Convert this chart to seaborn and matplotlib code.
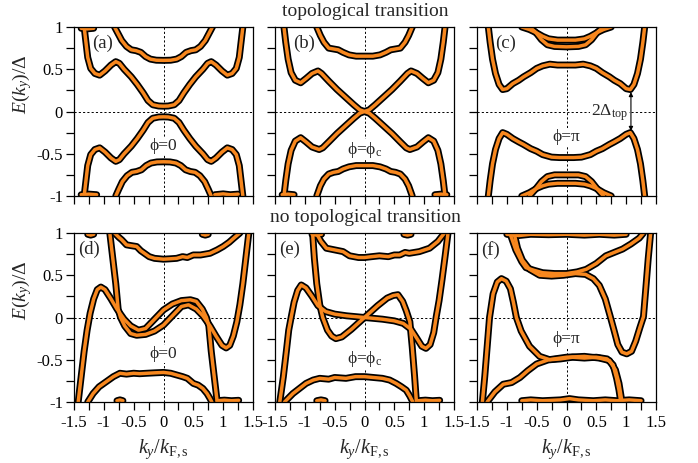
import matplotlib
matplotlib.use("Agg")
import matplotlib.pyplot as plt
import seaborn as sns
import pandas as pd

sns.set_theme(style="ticks")
plt.rcParams["font.family"] = ["Liberation Serif", "DejaVu Serif"]
plt.rcParams["mathtext.fontset"] = "custom"
plt.rcParams["mathtext.rm"] = "Liberation Serif"
plt.rcParams["mathtext.it"] = "Liberation Serif:italic"
plt.rcParams["axes.unicode_minus"] = False
plt.rcParams["axes.edgecolor"] = "black"
plt.rcParams["xtick.color"] = "black"
plt.rcParams["ytick.color"] = "black"

ORANGE = "#F7871E"

# axis ticks
K_TICKS = [-1.5, -1.0, -0.5, 0.0, 0.5, 1.0, 1.5]
K_TICK_LABELS = ["-1.5", "-1", "-0.5", "0", "0.5", "1", "1.5"]
K_MINOR = [-1.25, -0.75, -0.25, 0.25, 0.75, 1.25]
E_TICKS = [-1.0, -0.5, 0.0, 0.5, 1.0]
E_TICK_LABELS = ["-1", "-0.5", "0", "0.5", "1"]
E_MINOR = [-0.75, -0.25, 0.25, 0.75]

# ---- (a) phi = 0, topological case ----
A_UP_INNER = [(-1.33, 1.0), (-1.30, 0.82), (-1.27, 0.64), (-1.22, 0.51), (-1.15, 0.45),
              (-1.07, 0.43), (-0.98, 0.48), (-0.88, 0.55), (-0.80, 0.59), (-0.74, 0.57),
              (-0.66, 0.50), (-0.54, 0.41), (-0.44, 0.32), (-0.34, 0.22), (-0.26, 0.13),
              (-0.18, 0.08), (-0.08, 0.065), (0.0, 0.063), (0.08, 0.065), (0.18, 0.08),
              (0.26, 0.13), (0.34, 0.22), (0.44, 0.32), (0.54, 0.41), (0.66, 0.50),
              (0.74, 0.57), (0.80, 0.59), (0.88, 0.55), (0.98, 0.48), (1.07, 0.43),
              (1.15, 0.45), (1.22, 0.51), (1.27, 0.64), (1.30, 0.82), (1.33, 1.0)]
A_UP_OUTER = [(-0.82, 1.0), (-0.76, 0.92), (-0.70, 0.84), (-0.62, 0.77), (-0.54, 0.73),
              (-0.46, 0.72), (-0.38, 0.70), (-0.30, 0.65), (-0.22, 0.62), (-0.12, 0.607),
              (0.0, 0.605), (0.12, 0.607), (0.22, 0.62), (0.30, 0.65), (0.38, 0.70),
              (0.46, 0.72), (0.54, 0.73), (0.62, 0.77), (0.70, 0.84), (0.76, 0.92), (0.82, 1.0)]
A_DN_INNER = [(-1.33, -1.0), (-1.30, -0.82), (-1.27, -0.64), (-1.22, -0.51), (-1.15, -0.45),
              (-1.07, -0.43), (-0.98, -0.48), (-0.88, -0.55), (-0.80, -0.59), (-0.74, -0.57),
              (-0.66, -0.50), (-0.54, -0.41), (-0.44, -0.32), (-0.34, -0.22), (-0.26, -0.13),
              (-0.18, -0.08), (-0.08, -0.065), (0.0, -0.063), (0.08, -0.065), (0.18, -0.08),
              (0.26, -0.13), (0.34, -0.22), (0.44, -0.32), (0.54, -0.41), (0.66, -0.50),
              (0.74, -0.57), (0.80, -0.59), (0.88, -0.55), (0.98, -0.48), (1.07, -0.43),
              (1.15, -0.45), (1.22, -0.51), (1.27, -0.64), (1.30, -0.82), (1.33, -1.0)]
A_DN_OUTER = [(-0.80, -1.0), (-0.75, -0.92), (-0.69, -0.83), (-0.61, -0.76), (-0.53, -0.72),
              (-0.45, -0.71), (-0.37, -0.69), (-0.29, -0.64), (-0.21, -0.61), (-0.11, -0.597),
              (0.0, -0.595), (0.11, -0.597), (0.21, -0.61), (0.29, -0.64), (0.37, -0.69),
              (0.45, -0.71), (0.53, -0.72), (0.61, -0.76), (0.69, -0.83), (0.75, -0.92), (0.80, -1.0)]
A_EDGE_TOP = [(-1.38, 0.985), (-1.28, 0.978), (-1.17, 0.985)]
A_EDGE_BOT_L = [(-1.38, -0.985), (-1.25, -0.978), (-1.12, -0.985)]
A_EDGE_BOT_R = [(0.86, -0.985), (1.0, -0.975), (1.12, -0.985), (1.25, -0.978)]

# ---- (b) phi = phi_c, gap closing ----
B_UP_INNER = [(-1.35, 1.0), (-1.32, 0.82), (-1.28, 0.62), (-1.23, 0.46), (-1.16, 0.37),
              (-1.07, 0.34), (-0.98, 0.39), (-0.88, 0.45), (-0.78, 0.48), (-0.72, 0.45),
              (-0.60, 0.36), (-0.46, 0.26), (-0.32, 0.17), (-0.18, 0.08), (-0.08, 0.02),
              (0.0, 0.0), (0.08, 0.02), (0.18, 0.08), (0.32, 0.17), (0.46, 0.26),
              (0.60, 0.36), (0.72, 0.45), (0.78, 0.48), (0.88, 0.45), (0.98, 0.39),
              (1.07, 0.34), (1.16, 0.37), (1.23, 0.46), (1.28, 0.62), (1.32, 0.82), (1.35, 1.0)]
B_UP_OUTER = [(-0.80, 1.0), (-0.74, 0.90), (-0.68, 0.82), (-0.60, 0.75), (-0.52, 0.74),
              (-0.44, 0.73), (-0.36, 0.70), (-0.26, 0.67), (-0.14, 0.655), (0.0, 0.655),
              (0.14, 0.655), (0.26, 0.67), (0.36, 0.70), (0.44, 0.73), (0.52, 0.74),
              (0.60, 0.75), (0.68, 0.82), (0.74, 0.90), (0.80, 1.0)]
B_DN_INNER = [(-1.35, -1.0), (-1.32, -0.82), (-1.28, -0.62), (-1.23, -0.46), (-1.16, -0.35),
              (-1.07, -0.31), (-0.98, -0.36), (-0.88, -0.42), (-0.76, -0.45), (-0.70, -0.43),
              (-0.60, -0.36), (-0.46, -0.26), (-0.32, -0.17), (-0.18, -0.08), (-0.08, -0.02),
              (0.0, 0.0), (0.08, -0.02), (0.18, -0.08), (0.32, -0.17), (0.46, -0.26),
              (0.60, -0.36), (0.70, -0.43), (0.76, -0.45), (0.88, -0.42), (0.98, -0.36),
              (1.07, -0.31), (1.16, -0.35), (1.23, -0.46), (1.28, -0.62), (1.32, -0.82), (1.35, -1.0)]
B_DN_OUTER = [(-0.80, -1.0), (-0.74, -0.88), (-0.68, -0.80), (-0.60, -0.74), (-0.52, -0.72),
              (-0.44, -0.71), (-0.36, -0.68), (-0.26, -0.655), (-0.14, -0.64), (0.0, -0.64),
              (0.14, -0.64), (0.26, -0.655), (0.36, -0.68), (0.44, -0.71), (0.52, -0.72),
              (0.60, -0.74), (0.68, -0.80), (0.74, -0.88), (0.80, -1.0)]
B_EDGE_BOT_L = [(-1.38, -0.985), (-1.28, -0.978), (-1.18, -0.985)]
B_EDGE_BOT_R = [(1.18, -0.985), (1.28, -0.978), (1.38, -0.985)]

# ---- (c) phi = pi ----
C_UP_LOW = [(-1.31, 1.0), (-1.28, 0.82), (-1.24, 0.62), (-1.19, 0.45), (-1.13, 0.32),
            (-1.07, 0.26), (-1.00, 0.27), (-0.90, 0.33), (-0.80, 0.37), (-0.72, 0.41),
            (-0.60, 0.46), (-0.50, 0.51), (-0.40, 0.54), (-0.28, 0.56), (-0.15, 0.55),
            (0.0, 0.55), (0.15, 0.55), (0.28, 0.56), (0.40, 0.54), (0.50, 0.51),
            (0.60, 0.46), (0.72, 0.41), (0.80, 0.37), (0.90, 0.33), (1.00, 0.27),
            (1.07, 0.26), (1.13, 0.32), (1.19, 0.45), (1.24, 0.62), (1.28, 0.82), (1.31, 1.0)]
C_UP_HIGH_A = [(-0.75, 1.0), (-0.62, 0.97), (-0.50, 0.93), (-0.40, 0.89), (-0.30, 0.86),
               (-0.15, 0.845), (0.0, 0.845), (0.15, 0.845), (0.30, 0.86), (0.40, 0.89),
               (0.50, 0.93), (0.62, 0.97), (0.75, 1.0)]
C_UP_HIGH_B = [(-0.62, 1.0), (-0.52, 0.94), (-0.42, 0.85), (-0.32, 0.79), (-0.20, 0.77),
               (0.0, 0.765), (0.20, 0.77), (0.32, 0.79), (0.42, 0.85), (0.52, 0.94), (0.62, 1.0)]
C_DN_HIGH = [(-1.31, -1.0), (-1.28, -0.82), (-1.24, -0.62), (-1.19, -0.45), (-1.13, -0.32),
             (-1.07, -0.25), (-1.00, -0.27), (-0.90, -0.32), (-0.80, -0.36), (-0.72, -0.39),
             (-0.60, -0.44), (-0.50, -0.47), (-0.40, -0.51), (-0.25, -0.54), (-0.12, -0.545),
             (0.0, -0.545), (0.12, -0.545), (0.25, -0.54), (0.40, -0.51), (0.50, -0.47),
             (0.60, -0.44), (0.72, -0.39), (0.80, -0.36), (0.90, -0.32), (1.00, -0.27),
             (1.07, -0.25), (1.13, -0.32), (1.19, -0.45), (1.24, -0.62), (1.28, -0.82), (1.31, -1.0)]
C_DN_LOW_A = [(-0.75, -1.0), (-0.62, -0.96), (-0.50, -0.91), (-0.40, -0.88), (-0.30, -0.86),
              (-0.15, -0.85), (0.0, -0.85), (0.15, -0.85), (0.30, -0.86), (0.40, -0.88),
              (0.50, -0.91), (0.62, -0.96), (0.75, -1.0)]
C_DN_LOW_B = [(-0.62, -1.0), (-0.52, -0.92), (-0.42, -0.83), (-0.32, -0.77), (-0.20, -0.75),
              (0.0, -0.75), (0.20, -0.75), (0.32, -0.77), (0.42, -0.83), (0.52, -0.92), (0.62, -1.0)]

# ---- (d) phi = 0, no topological transition ----
D_TOP = [(-0.82, 1.0), (-0.75, 0.95), (-0.70, 0.92), (-0.62, 0.86), (-0.54, 0.85),
         (-0.45, 0.84), (-0.38, 0.79), (-0.32, 0.76), (-0.24, 0.72), (-0.15, 0.70),
         (0.0, 0.69), (0.12, 0.695), (0.22, 0.70), (0.32, 0.72), (0.40, 0.71),
         (0.50, 0.74), (0.62, 0.74), (0.70, 0.75), (0.78, 0.76), (0.90, 0.80),
         (1.00, 0.84), (1.10, 0.89), (1.18, 0.94), (1.28, 1.0)]
D_BOT = [(-1.27, -1.0), (-1.18, -0.90), (-1.08, -0.82), (-1.00, -0.78), (-0.92, -0.74),
         (-0.84, -0.70), (-0.73, -0.66), (-0.62, -0.67), (-0.50, -0.66), (-0.40, -0.665),
         (-0.28, -0.66), (-0.15, -0.655), (0.0, -0.65), (0.12, -0.66), (0.22, -0.68),
         (0.32, -0.70), (0.40, -0.72), (0.50, -0.78), (0.58, -0.80), (0.66, -0.84),
         (0.73, -0.90), (0.78, -0.96), (0.81, -1.0)]
D_MID_A = [(-1.43, -1.0), (-1.38, -0.70), (-1.33, -0.40), (-1.28, -0.15), (-1.23, 0.05),
           (-1.17, 0.22), (-1.11, 0.33), (-1.05, 0.36), (-0.98, 0.33), (-0.88, 0.22),
           (-0.78, 0.10), (-0.66, -0.02), (-0.55, -0.10), (-0.42, -0.15), (-0.30, -0.13),
           (-0.15, -0.02), (0.0, 0.09), (0.15, 0.16), (0.30, 0.20), (0.45, 0.21),
           (0.55, 0.19), (0.65, 0.10), (0.72, 0.0), (0.76, -0.10), (0.80, -0.40),
           (0.85, -0.70), (0.90, -1.0)]
D_MID_B = [(-0.90, 1.0), (-0.85, 0.70), (-0.80, 0.40), (-0.76, 0.10), (-0.72, 0.0),
           (-0.65, -0.10), (-0.55, -0.19), (-0.45, -0.21), (-0.30, -0.20), (-0.15, -0.16),
           (0.0, -0.09), (0.15, 0.02), (0.30, 0.13), (0.42, 0.15), (0.55, 0.10),
           (0.66, 0.02), (0.78, -0.10), (0.88, -0.22), (0.98, -0.33), (1.05, -0.36),
           (1.11, -0.33), (1.17, -0.22), (1.23, -0.05), (1.28, 0.15), (1.33, 0.40),
           (1.38, 0.70), (1.43, 1.0)]
D_EDGE_TOP_L = [(-1.27, 0.985), (-1.22, 0.975), (-1.17, 0.985)]
D_EDGE_TOP_R = [(0.65, 0.985), (0.70, 0.975), (0.75, 0.985)]
D_EDGE_BOT_L = [(-0.78, -0.985), (-0.73, -0.975), (-0.68, -0.985)]
D_EDGE_BOT_R = [(0.90, -0.985), (1.02, -0.978), (1.14, -0.985), (1.26, -0.98)]

# ---- (e) phi = phi_c, no topological transition ----
E_TOP = [(-0.81, 1.0), (-0.73, 0.90), (-0.64, 0.82), (-0.50, 0.80), (-0.36, 0.78),
         (-0.25, 0.73), (-0.10, 0.71), (0.0, 0.71), (0.12, 0.72), (0.25, 0.73),
         (0.40, 0.72), (0.50, 0.74), (0.59, 0.74), (0.68, 0.77), (0.75, 0.76),
         (0.92, 0.78), (1.09, 0.82), (1.23, 0.90), (1.34, 1.0)]
E_BOT = [(-1.34, -1.0), (-1.20, -0.90), (-0.98, -0.78), (-0.86, -0.74), (-0.75, -0.72),
         (-0.60, -0.73), (-0.50, -0.71), (-0.31, -0.72), (-0.15, -0.70), (0.0, -0.70),
         (0.15, -0.71), (0.30, -0.72), (0.42, -0.74), (0.53, -0.78), (0.62, -0.82),
         (0.70, -0.86), (0.76, -0.93), (0.81, -1.0)]
E_MID_A = [(-1.42, -1.0), (-1.36, -0.70), (-1.31, -0.40), (-1.27, -0.15), (-1.23, 0.0),
           (-1.18, 0.18), (-1.12, 0.32), (-1.06, 0.385), (-0.98, 0.35), (-0.88, 0.25),
           (-0.78, 0.14), (-0.65, 0.07), (-0.50, 0.04), (-0.30, 0.02), (0.0, 0.0),
           (0.30, -0.02), (0.50, -0.04), (0.65, -0.07), (0.78, -0.14), (0.88, -0.25),
           (0.96, -0.34), (1.03, -0.365), (1.10, -0.32), (1.16, -0.18), (1.20, 0.0),
           (1.25, 0.20), (1.30, 0.45), (1.35, 0.72), (1.40, 1.0)]
E_MID_B = [(-0.87, 1.0), (-0.84, 0.70), (-0.80, 0.40), (-0.75, 0.15), (-0.70, 0.0),
           (-0.62, -0.15), (-0.55, -0.22), (-0.48, -0.25), (-0.38, -0.23), (-0.22, -0.14),
           (0.0, 0.0), (0.22, 0.14), (0.38, 0.23), (0.48, 0.26), (0.56, 0.27),
           (0.64, 0.19), (0.70, 0.08), (0.76, -0.05), (0.80, -0.35), (0.84, -0.70), (0.87, -1.0)]
E_EDGE_TOP_L = [(-0.88, 0.985), (-0.80, 0.975), (-0.72, 0.985)]
E_EDGE_TOP_R = [(0.66, 0.985), (0.72, 0.975), (0.78, 0.985)]
E_EDGE_BOT_L = [(-0.80, -0.985), (-0.73, -0.975), (-0.66, -0.985)]
E_EDGE_BOT_R = [(0.90, -0.985), (1.02, -0.978), (1.14, -0.985), (1.26, -0.98)]

# ---- (f) phi = pi, no topological transition ----
F_UPPER = [(-0.95, 1.0), (-0.85, 0.80), (-0.75, 0.66), (-0.68, 0.59), (-0.55, 0.56),
           (-0.40, 0.53), (-0.20, 0.52), (0.0, 0.52), (0.18, 0.54), (0.33, 0.57),
           (0.50, 0.64), (0.66, 0.73), (0.80, 0.77), (0.94, 0.81), (1.08, 0.87),
           (1.22, 0.94), (1.29, 1.0)]
F_LOWER = [(-1.33, -1.0), (-1.20, -0.88), (-1.06, -0.79), (-0.92, -0.77), (-0.78, -0.71),
           (-0.65, -0.63), (-0.50, -0.55), (-0.30, -0.50), (0.0, -0.47), (0.30, -0.46),
           (0.55, -0.48), (0.72, -0.51), (0.82, -0.62), (0.88, -0.78), (0.93, -1.0)]
F_MID_A = [(-1.41, -1.0), (-1.37, -0.70), (-1.33, -0.35), (-1.29, 0.0), (-1.23, 0.28),
           (-1.16, 0.42), (-1.09, 0.46), (-1.01, 0.43), (-0.94, 0.34), (-0.89, 0.18),
           (-0.84, 0.0), (-0.76, -0.16), (-0.62, -0.34), (-0.45, -0.46), (-0.28, -0.50),
           (-0.10, -0.49), (0.10, -0.47), (0.30, -0.48), (0.50, -0.47), (0.68, -0.49),
           (0.78, -0.56), (0.84, -0.72), (0.88, -0.86), (0.91, -1.0)]
F_MID_B = [(-0.88, 1.0), (-0.82, 0.82), (-0.74, 0.68), (-0.62, 0.57), (-0.45, 0.50),
           (-0.25, 0.49), (-0.05, 0.50), (0.15, 0.52), (0.32, 0.51), (0.45, 0.46),
           (0.55, 0.38), (0.65, 0.22), (0.73, 0.02), (0.80, -0.16), (0.86, -0.32),
           (0.93, -0.41), (1.01, -0.43), (1.09, -0.40), (1.16, -0.28), (1.23, -0.12),
           (1.29, 0.01), (1.33, 0.35), (1.37, 0.70), (1.41, 1.0)]
F_EDGE_TOP = [(-1.0, 0.985), (-0.8, 0.97), (-0.6, 0.985), (-0.3, 0.98), (0.0, 0.985),
              (0.3, 0.975), (0.55, 0.985), (0.8, 0.975), (1.0, 0.985)]
F_EDGE_BOT = [(-0.75, -0.985), (-0.6, -0.975), (-0.4, -0.985), (-0.1, -0.975), (0.05, -0.96),
              (0.2, -0.975), (0.45, -0.985), (0.65, -0.975), (0.85, -0.985), (1.05, -0.975),
              (1.25, -0.985)]

PANEL_CURVES = {
    "a": [A_UP_INNER, A_UP_OUTER, A_DN_INNER, A_DN_OUTER, A_EDGE_TOP, A_EDGE_BOT_L, A_EDGE_BOT_R],
    "b": [B_UP_INNER, B_UP_OUTER, B_DN_INNER, B_DN_OUTER, B_EDGE_BOT_L, B_EDGE_BOT_R],
    "c": [C_UP_LOW, C_UP_HIGH_A, C_UP_HIGH_B, C_DN_HIGH, C_DN_LOW_A, C_DN_LOW_B],
    "d": [D_TOP, D_BOT, D_MID_A, D_MID_B, D_EDGE_TOP_L, D_EDGE_TOP_R, D_EDGE_BOT_L, D_EDGE_BOT_R],
    "e": [E_TOP, E_BOT, E_MID_A, E_MID_B, E_EDGE_TOP_L, E_EDGE_TOP_R, E_EDGE_BOT_L, E_EDGE_BOT_R],
    "f": [F_UPPER, F_LOWER, F_MID_A, F_MID_B, F_EDGE_TOP, F_EDGE_BOT],
}
PHASE_LABELS = {"a": "ϕ=0", "b": r"ϕ=ϕ$_\mathrm{c}$", "c": "ϕ=π",
                "d": "ϕ=0", "e": r"ϕ=ϕ$_\mathrm{c}$", "f": "ϕ=π"}
PHASE_POS = {"a": -0.41, "b": -0.45, "c": -0.30, "d": -0.43, "e": -0.49, "f": -0.26}

FIG_W, FIG_H = 698, 463
COL_LEFT = [74, 275, 477]
ROW_TOP = [27, 233]
PANEL_W, PANEL_H = 179, 169

fig = plt.figure(figsize=(FIG_W / 100, FIG_H / 100), dpi=100)


def band_frame(curves):
    parts = []
    for i, pts in enumerate(curves):
        df = pd.DataFrame(pts, columns=["k", "E"])
        df["band"] = i
        parts.append(df)
    return pd.concat(parts, ignore_index=True)


for idx, name in enumerate("abcdef"):
    row, col = divmod(idx, 3)
    left = COL_LEFT[col] / FIG_W
    bottom = 1 - (ROW_TOP[row] + PANEL_H) / FIG_H
    ax = fig.add_axes([left, bottom, PANEL_W / FIG_W, PANEL_H / FIG_H])

    ax.axhline(0, color="black", lw=0.7, ls=(0, (2.2, 2.2)), zorder=1)
    ax.axvline(0, color="black", lw=0.7, ls=(0, (2.2, 2.2)), zorder=1)

    data = band_frame(PANEL_CURVES[name])
    sns.lineplot(data=data, x="k", y="E", units="band", estimator=None, sort=False,
                 color="black", lw=5.0, ax=ax, legend=False, zorder=3,
                 solid_capstyle="round", solid_joinstyle="round")
    sns.lineplot(data=data, x="k", y="E", units="band", estimator=None, sort=False,
                 color=ORANGE, lw=2.5, ax=ax, legend=False, zorder=4,
                 solid_capstyle="round", solid_joinstyle="round")

    ax.set_xlim(-1.5, 1.5)
    ax.set_ylim(-1, 1)
    ax.set_xticks(K_TICKS)
    ax.set_xticks(K_MINOR, minor=True)
    ax.set_yticks(E_TICKS)
    ax.set_yticks(E_MINOR, minor=True)
    ax.set_xlabel("")
    ax.set_ylabel("")
    if row == 1:
        ax.set_xticklabels(K_TICK_LABELS)
    else:
        ax.set_xticklabels([])
    if col == 0:
        ax.set_yticklabels(E_TICK_LABELS)
    else:
        ax.set_yticklabels([])
    ax.tick_params(which="both", direction="out", length=5.5, width=0.9,
                   top=False, right=False, labelsize=12)
    ax.tick_params(axis="x", pad=4)
    ax.tick_params(axis="y", pad=2.5)
    for sp in ax.spines.values():
        sp.set_linewidth(0.9)
        sp.set_color("black")
        sp.set_zorder(5)

    x_off = 0.10 if row == 0 else 0.025
    ax.text(x_off, 0.955, f"({name})", transform=ax.transAxes, ha="left", va="top",
            fontsize=13.5, zorder=6)
    ax.text(0.0, PHASE_POS[name], PHASE_LABELS[name], ha="center", va="center",
            fontsize=12.5, zorder=6,
            bbox=dict(boxstyle="square,pad=0.05", facecolor="white", edgecolor="none"))

    if name == "c":
        ax.annotate("", xy=(1.08, -0.23), xytext=(1.08, 0.23),
                    arrowprops=dict(arrowstyle="<|-|>", color="black", lw=0.8,
                                    mutation_scale=6, shrinkA=0, shrinkB=0), zorder=6)
        ax.text(1.03, -0.01, r"2Δ$_\mathrm{top}$", ha="right", va="center",
                fontsize=12.5, zorder=6,
                bbox=dict(boxstyle="square,pad=0.05", facecolor="white", edgecolor="none"))

    if col == 0:
        yc = 84 if row == 0 else 290
        fig.text(22 / FIG_W, 1 - yc / FIG_H, r"$E$($k_y$)/Δ", rotation=90,
                 ha="center", va="center", fontsize=14)
    if row == 1:
        xc = COL_LEFT[col] + PANEL_W / 2
        fig.text(xc / FIG_W, 1 - 449 / FIG_H, r"$k_y/k_\mathrm{F,s}$",
                 ha="center", va="center", fontsize=14.5)

fig.text(365 / FIG_W, 1 - 12 / FIG_H, "topological transition", ha="center",
         va="center", fontsize=14)
fig.text(365 / FIG_W, 1 - 218 / FIG_H, "no topological transition", ha="center",
         va="center", fontsize=14)

fig.savefig("out.png", dpi=100)
